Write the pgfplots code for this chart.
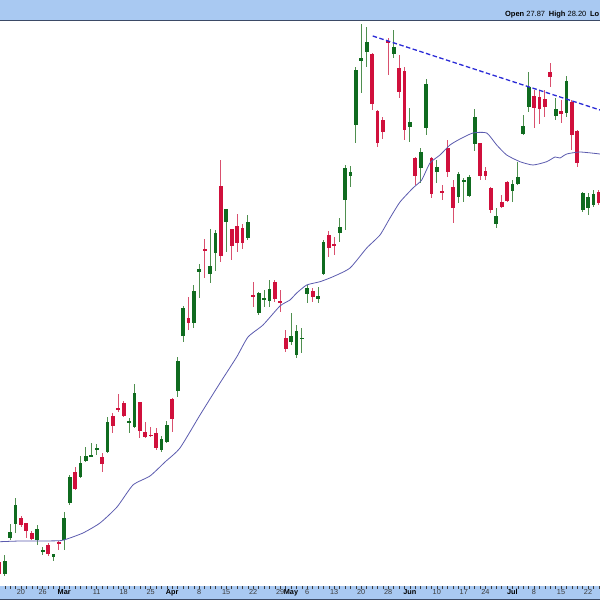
\documentclass[border=0pt]{standalone}
\usepackage{fontspec}
\setmainfont{Liberation Sans}
\usepackage{pgfplots}
\usepackage{pgfplotstable}
\pgfplotsset{compat=1.18}
\pgfdeclarelayer{background}
\pgfsetlayers{background,main}

\definecolor{barblue}{HTML}{A9C9F2}
\definecolor{barline}{HTML}{3B4A66}
\definecolor{upbody}{HTML}{0F6B1F}
\definecolor{upwick}{HTML}{4F8F4F}
\definecolor{dnbody}{HTML}{D0103C}
\definecolor{dnwick}{HTML}{D9506E}
\definecolor{maline}{HTML}{5B5BAE}
\definecolor{trend}{HTML}{2B2BD6}
\definecolor{labgrey}{HTML}{3A3A3A}

% up (green) candles
\pgfplotstableread{
idx open high low close
-3 26 45 24 39
-2 62 76 60 68
-1 76 102 67 95
3 60 75 55 71
4 48 53 45 50
6 43 46 39 46
8 60 88 50 82
9 97 125 95 123
11 123 144 122 137
12 139 153 138 144
13 143 157 143 144.5
14 150 156 145 152
16 148 183 147 178
20 177 182 167 179
21 173 216 172 207
26 150 164 148 161
27 158 179 157 175
29 209 243 203 239
30 264 294 258 292
32 277 315 272 309
33 328 336 302 331
35 326 371 317 334
36 347 370 329 367
38 378 391 348 391
42 362 385 360 378
44 287 308 285 307
45 300 310 293 301.5
46 299 320 293 311
50 258 287 255 264
51 245 275 242 269
52 261 272 247 262
53 306 315 297 312
55 301 313 297 304
56 326 360 325 358
59 367 382 358 373
60 400 435 370 432
61 424 434 413 428
62 475 533 457 530
63 539 576 507 542
64 548 573 533 558
69 546 570 542 553
72 473 492 458 478
74 432 452 417 448
75 472 521 465 516
77 428 440 417 433
81 403 428 397 426
82 418.5 422 398 420
83 404 425 403 423
84 456 491 449 483
88 376 392 372 384
91 409 420 398 416
92 416 438 415 423
93 466 485 465 474
94 493 528 488 513
99 484 502 480 491
101 487 524 483 519
104 390 408 388 407
105 392 407 385 403
106 395 410 393 406
}\up

% down (red) candles
\pgfplotstableread{
idx open high low close
-4 38 40 24 26
0 82 84 73 75
1 77 77 62 69
2 67 69 60 61
5 55 57 44 46
7 58 59 50 56
10 128 133 110 111
15 143 147 128 136
17 184 187 167 174
18 192 206 188 190.5
19 197 199 183 184
22 198 198 162 169
23 168 178 162 163
24 165.5 173 163 164
25 167 172 150 152
28 201 202 168 181
31 282 303 270 277
34 351 361 322 349
37 414 440 338 344
39 371 371 340 354
40 374 386 348 357
41 372 376 351 357
43 304.5 318 293 303
47 318 320 298 301
48 299 310 288 297
49 262 270 248 251
54 309 312 298 303
57 365 369 343 352
58 356 363 345 354
65 546 547 490 496
66 489 490 453 457
67 480 483 461 468
68 559 562 525 557.5
70 532 545 502 508
71 529 533 460 470
73 442 443 415 424
76 442 443 402 406
78 409 415 400 407.5
79 452 460 423 428
80 413 420 377 392
85 457 457 420 424
86 429 433 420 424
87 412 413 387 390
89 398 405 392 393
90 418 419 398 399
95 504 510 472 492
96 503 510 476 491
97 501 510 483 493
98 528 537 513 523
100 489 500 477 486
102 498 500 450 465
103 469 470 433 437
107 408 410 395 397
}\down

\begin{document}
\begin{tikzpicture}
\begin{axis}[
  width=600pt, height=565pt, scale only axis,
  xmin=-3.8889, xmax=107.2222, ymin=14, ymax=579,
  axis line style={draw=none},
  ytick=\empty,
  xtick={0,4,8,14,19,24,28,33,38,43,48,50,53,58,63,68,72,77,82,86,91,95,100,105},
  xticklabels={20,26,\textbf{\color{black}Mar},11,18,25,\textbf{\color{black}Apr},8,15,22,29,\textbf{\color{black}May},6,13,20,28,\textbf{\color{black}Jun},10,17,24,\textbf{\color{black}Jul},8,15,22},
  minor xtick={-4,-3,...,107},
  xtick pos=bottom,
  tick align=outside,
  major tick length=2.5pt, minor tick length=2.5pt,
  every tick/.style={color=labgrey, line width=0.4pt},
  xticklabel style={font=\fontsize{7.3}{8}\selectfont, text=labgrey, anchor=north, inner sep=0pt, yshift=-0.8pt},
  /pgf/number format/assume math mode=true,
  clip=true,
  candle/.style={mark=none, draw=none, error bars/.cd, y dir=both, y explicit, error mark=none,
     error bar style={#1}},
]
% wicks
\addplot [candle={line width=0.9pt, draw=upwick}]
  table [x=idx, y expr={(\thisrow{high}+\thisrow{low})/2}, y error expr={(\thisrow{high}-\thisrow{low})/2}] {\up};
\addplot [candle={line width=0.9pt, draw=dnwick}]
  table [x=idx, y expr={(\thisrow{high}+\thisrow{low})/2}, y error expr={(\thisrow{high}-\thisrow{low})/2}] {\down};
% bodies
\addplot [candle={line width=3.8pt, draw=upbody}]
  table [x=idx, y expr={(\thisrow{open}+\thisrow{close})/2}, y error expr={max(abs(\thisrow{close}-\thisrow{open})/2,0.7)}] {\up};
\addplot [candle={line width=3.8pt, draw=dnbody}]
  table [x=idx, y expr={(\thisrow{open}+\thisrow{close})/2}, y error expr={max(abs(\thisrow{close}-\thisrow{open})/2,0.7)}] {\down};
% moving average
\addplot [color=maline, line width=0.8pt, smooth, tension=0.35, mark=none] coordinates {
(-3.89,58.3) (-0.19,59) (3.52,59) (7.22,59.3) (8.52,61) (11.48,67) (14.63,77)
(17.78,93) (20.74,115) (23.89,124) (26.67,138) (29.44,152) (33.15,185)
(36.85,217) (39.94,243) (42.04,263) (44.81,275) (47.96,294) (49.81,300)
(51.06,307) (52.91,315) (55.37,318.3) (57.78,323.3) (60.93,332) (64.02,352)
(66.48,365) (68.33,382) (70.19,398) (72.59,412) (74.20,420) (75.74,437)
(77.59,445) (79.44,455) (81.30,461) (83.70,467) (86.24,467) (88.09,455)
(89.94,445) (92.41,438.3) (94.81,435) (97.35,438.3) (98.89,443) (99.81,442)
(101.06,446) (103.52,448) (107.22,446)
};
% trend line
\addplot [color=trend, line width=1.3pt, dash pattern=on 4.5pt off 2.5pt, mark=none]
  coordinates {(65.13,564) (107.22,490)};
\end{axis}
\begin{pgfonlayer}{background}
\fill[barblue] (current axis.north west) rectangle ([yshift=21pt]current axis.north east);
\fill[barblue] (current axis.south west) rectangle ([yshift=-14pt]current axis.south east);
\end{pgfonlayer}
\draw[barline, line width=0.9pt] ([yshift=0.45pt]current axis.north west) -- ([yshift=0.45pt]current axis.north east);
\draw[barline, line width=0.8pt] ([yshift=-13.6pt]current axis.south west) -- ([yshift=-13.6pt]current axis.south east);
\node[anchor=east, inner sep=0pt, font=\fontsize{7.5}{8}\selectfont, text=black]
  at ([xshift=-0.5pt, yshift=6pt]current axis.north east)
  {\textbf{Open} 27.87\enspace\textbf{High} 28.20\enspace\textbf{Lo}};
\pgfresetboundingbox
\path[use as bounding box] ([yshift=-14pt]current axis.south west) rectangle ([yshift=21pt]current axis.north east);
\end{tikzpicture}
\end{document}
